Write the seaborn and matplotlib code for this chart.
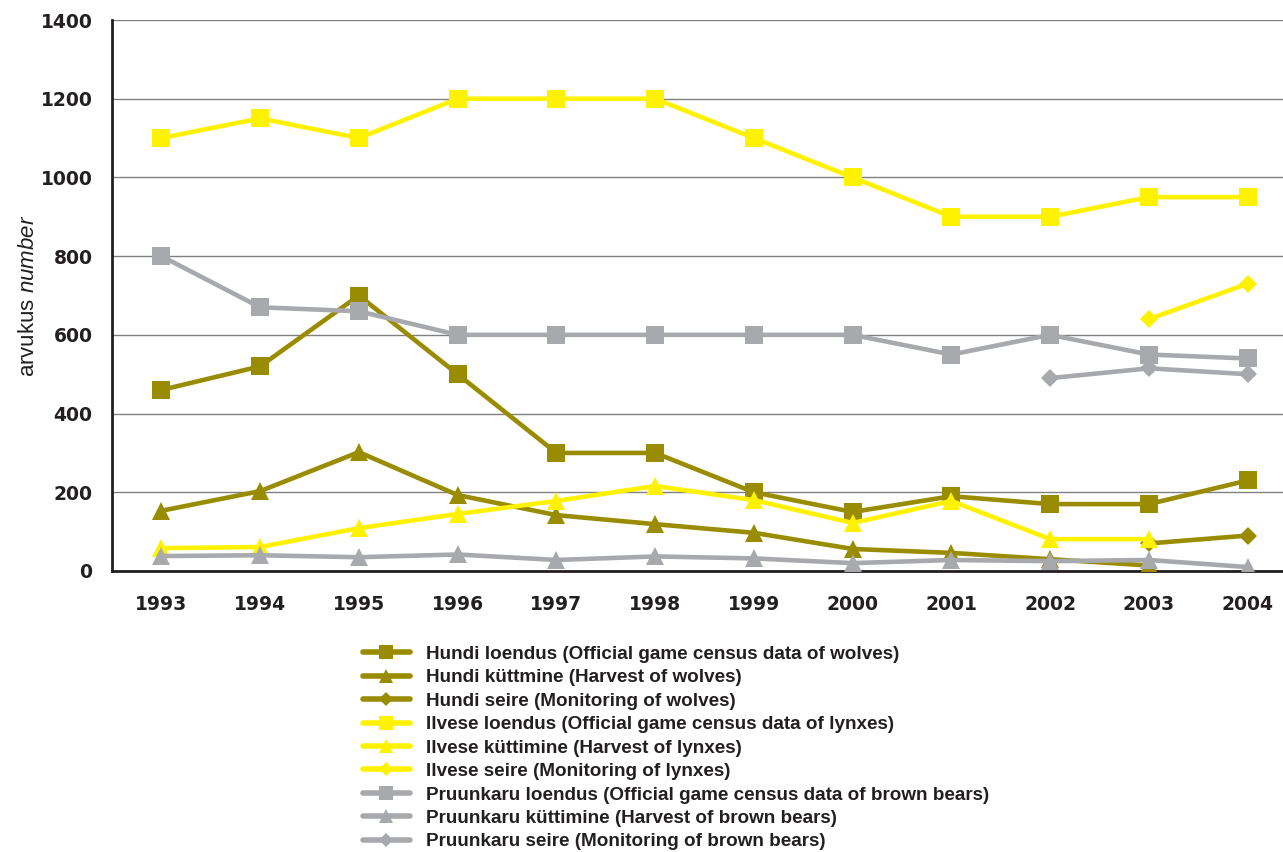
import numpy as np
import pandas as pd
import matplotlib.pyplot as plt
import seaborn as sns
from matplotlib.lines import Line2D

sns.set_style("white")
plt.rcParams["font.family"] = ["Liberation Sans", "DejaVu Sans"]
plt.rcParams["mathtext.fontset"] = "custom"
plt.rcParams["mathtext.rm"] = "Liberation Sans"
plt.rcParams["mathtext.it"] = "Liberation Sans:italic"

years = ["1993", "1994", "1995", "1996", "1997", "1998",
         "1999", "2000", "2001", "2002", "2003", "2004"]
nan = np.nan

wolf_census = [460, 520, 700, 500, 300, 300, 200, 150, 190, 170, 170, 230]
wolf_harvest = [153, 203, 302, 193, 142, 119, 97, 56, 46, 30, 14, nan]
wolf_monitor = [nan, nan, nan, nan, nan, nan, nan, nan, nan, nan, 70, 90]
lynx_census = [1100, 1150, 1100, 1200, 1200, 1200, 1100, 1000, 900, 900, 950, 950]
lynx_harvest = [58, 61, 109, 145, 178, 216, 180, 122, 178, 81, 81, nan]
lynx_monitor = [nan, nan, nan, nan, nan, nan, nan, nan, nan, nan, 640, 730]
bear_census = [800, 670, 660, 600, 600, 600, 600, 600, 550, 600, 550, 540]
bear_harvest = [38, 40, 35, 42, 28, 37, 32, 20, 28, 25, 28, 10]
bear_monitor = [nan, nan, nan, nan, nan, nan, nan, nan, nan, 490, 515, 500]

labels = [
    "Hundi loendus (Official game census data of wolves)",
    "Hundi küttmine (Harvest of wolves)",
    "Hundi seire (Monitoring of wolves)",
    "Ilvese loendus (Official game census data of lynxes)",
    "Ilvese küttimine (Harvest of lynxes)",
    "Ilvese seire (Monitoring of lynxes)",
    "Pruunkaru loendus (Official game census data of brown bears)",
    "Pruunkaru küttimine (Harvest of brown bears)",
    "Pruunkaru seire (Monitoring of brown bears)",
]
series = [wolf_census, wolf_harvest, wolf_monitor,
          lynx_census, lynx_harvest, lynx_monitor,
          bear_census, bear_harvest, bear_monitor]

olive = "#9a8c00"
yellow = "#fff200"
grey = "#a7a9ac"
colors = [olive] * 3 + [yellow] * 3 + [grey] * 3
markers = ["s", "^", "D"] * 3
msizes = [12.5, 12.5, 9] * 3

fig = plt.figure(figsize=(12.83, 8.52), dpi=100)
ax = fig.add_axes([112 / 1283, 1 - 571 / 852, 1185 / 1283, 551 / 852])

x = np.arange(len(years))
for vals, lab, col, mk, ms in zip(series, labels, colors, markers, msizes):
    df = pd.DataFrame({"x": x, "y": vals}).dropna()
    sns.lineplot(data=df, x="x", y="y", ax=ax, color=col, linewidth=3.3,
                 marker=mk, markersize=ms, markeredgecolor=col,
                 markeredgewidth=0, label=lab, legend=False, zorder=3)

ax.set_xlim(-0.5, len(years) - 0.5)
ax.set_ylim(0, 1400)
ax.set_yticks(range(0, 1401, 200))
ax.set_xticks(x)
ax.set_xticklabels(years)
ax.set_xticks(np.arange(-0.5, len(years), 1), minor=True)
ax.tick_params(axis="x", which="major", length=0, pad=17)
ax.tick_params(axis="x", which="minor", length=6, width=1.5, color="#231f20")
ax.tick_params(axis="y", length=6, width=1, color="#231f20", pad=8)
for t in ax.get_xticklabels() + ax.get_yticklabels():
    t.set_fontfamily("DejaVu Sans")
    t.set_fontweight("bold")
    t.set_fontsize(13.5)
    t.set_color("#231f20")

ax.yaxis.grid(True, color="#808080", linewidth=1)
ax.set_axisbelow(True)
for side in ["top", "right"]:
    ax.spines[side].set_visible(False)
for side in ["left", "bottom"]:
    ax.spines[side].set_color("#231f20")
    ax.spines[side].set_linewidth(2)

ax.set_xlabel("")
ax.set_ylabel("arvukus $\\it{number}$", fontsize=16, color="#231f20", labelpad=1)

handles = [Line2D([0], [0], color=c, linewidth=4, marker=m, markersize=ms * 0.8,
                  markeredgewidth=0)
           for c, m, ms in zip(colors, markers, msizes)]
leg = fig.legend(handles, labels, loc="upper left",
                 bbox_to_anchor=(355 / 1283, 1 - 638 / 852), frameon=False,
                 fontsize=13.6, handlelength=2.5, handletextpad=0.85,
                 labelspacing=0.33, borderaxespad=0)
for t in leg.get_texts():
    t.set_fontweight("bold")
    t.set_color("#231f20")

fig.savefig("out.png", dpi=100)
